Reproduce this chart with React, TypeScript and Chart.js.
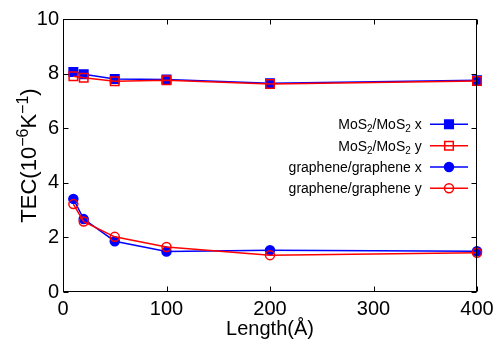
import React, { useEffect, useRef } from "react";
import { Chart, registerables } from "chart.js";

Chart.register(...registerables);

// ---- data ----
const lengths = [10, 20, 50, 100, 200, 400];
const mos2X = [8.06, 7.98, 7.8, 7.78, 7.65, 7.76];
const mos2Y = [7.9, 7.85, 7.72, 7.76, 7.62, 7.73];
const grapheneX = [3.41, 2.67, 1.86, 1.48, 1.53, 1.49];
const grapheneY = [3.22, 2.58, 2.02, 1.65, 1.35, 1.44];

const xTickValues = [0, 100, 200, 300, 400];
const yTickValues = [0, 2, 4, 6, 8, 10];

const xTitle = "Length(Å)";
// [text, mode] where mode: "n" normal, "sup" superscript, "sub" subscript
const yTitleParts: [string, string][] = [
  ["TEC(10", "n"],
  ["−6", "sup"],
  ["K", "n"],
  ["−1", "sup"],
  [")", "n"],
];
const legendLabels: [string, string][][] = [
  [["MoS", "n"], ["2", "sub"], ["/MoS", "n"], ["2", "sub"], [" x", "n"]],
  [["MoS", "n"], ["2", "sub"], ["/MoS", "n"], ["2", "sub"], [" y", "n"]],
  [["graphene/graphene x", "n"]],
  [["graphene/graphene y", "n"]],
];

const BLUE = "#0000ff";
const RED = "#ff0000";
const FONT = "'Liberation Sans', Arial, sans-serif";

type Style = { color: string; point: "rect" | "circle"; filled: boolean };
const styles: Style[] = [
  { color: BLUE, point: "rect", filled: true },
  { color: RED, point: "rect", filled: false },
  { color: BLUE, point: "circle", filled: true },
  { color: RED, point: "circle", filled: false },
];

function partsWidth(ctx: CanvasRenderingContext2D, parts: [string, string][], size: number, small: number) {
  let w = 0;
  for (const [t, m] of parts) {
    ctx.font = `${m === "n" ? size : small}px ${FONT}`;
    w += ctx.measureText(t).width;
  }
  return w;
}

function drawParts(
  ctx: CanvasRenderingContext2D,
  parts: [string, string][],
  x: number,
  baseline: number,
  size: number,
  small: number,
  supShift: number,
  subShift: number
) {
  let cx = x;
  ctx.textAlign = "left";
  ctx.textBaseline = "alphabetic";
  for (const [t, m] of parts) {
    ctx.font = `${m === "n" ? size : small}px ${FONT}`;
    const dy = m === "sup" ? -supShift : m === "sub" ? subShift : 0;
    ctx.fillText(t, cx, baseline + dy);
    cx += ctx.measureText(t).width;
  }
}

function drawMarker(ctx: CanvasRenderingContext2D, s: Style, x: number, y: number) {
  ctx.save();
  ctx.strokeStyle = s.color;
  ctx.fillStyle = s.color;
  ctx.lineWidth = 1.5;
  ctx.beginPath();
  if (s.point === "rect") {
    const h = 4.3;
    ctx.rect(x - h, y - h, 2 * h, 2 * h);
  } else {
    ctx.arc(x, y, 4.5, 0, Math.PI * 2);
  }
  if (s.filled) ctx.fill();
  ctx.stroke();
  ctx.restore();
}

const framePlugin = {
  id: "gnuframe",
  afterDraw(chart: any) {
    const ctx: CanvasRenderingContext2D = chart.ctx;
    const ca = chart.chartArea;
    const xs = chart.scales.x;
    const ys = chart.scales.y;
    ctx.save();
    ctx.strokeStyle = "#000";
    ctx.lineWidth = 1;
    const L = Math.round(ca.left) + 0.5;
    const R = Math.round(ca.right) - 0.5;
    const T = Math.round(ca.top) + 0.5;
    const B = Math.round(ca.bottom) - 0.5;
    ctx.strokeRect(L, T, R - L, B - T);
    const tl = 5;
    ctx.beginPath();
    for (const v of xTickValues) {
      const px = Math.round(xs.getPixelForValue(v)) + 0.5;
      ctx.moveTo(px, B);
      ctx.lineTo(px, B - tl);
      ctx.moveTo(px, T);
      ctx.lineTo(px, T + tl);
    }
    for (const v of yTickValues) {
      const py = Math.round(ys.getPixelForValue(v)) + 0.5;
      ctx.moveTo(L, py);
      ctx.lineTo(L + tl, py);
      ctx.moveTo(R, py);
      ctx.lineTo(R - tl, py);
    }
    ctx.stroke();

    // x title
    ctx.fillStyle = "#000";
    ctx.font = `20px ${FONT}`;
    ctx.textAlign = "center";
    ctx.textBaseline = "alphabetic";
    ctx.fillText(xTitle, (ca.left + ca.right) / 2, 335);

    // y title (rotated)
    ctx.save();
    ctx.translate(27.5, 155.5);
    ctx.rotate(-Math.PI / 2);
    const tw = partsWidth(ctx, yTitleParts, 22, 16);
    drawParts(ctx, yTitleParts, -tw / 2, 8, 22, 16, 7.5, 0);
    ctx.restore();

    // legend
    const rows = [124.3, 145.7, 167, 188.3];
    const textRight = 421.7;
    for (let i = 0; i < legendLabels.length; i++) {
      const y = rows[i];
      const w = partsWidth(ctx, legendLabels[i], 14, 10);
      ctx.fillStyle = "#000";
      drawParts(ctx, legendLabels[i], textRight - w, y + 5, 14, 10, 5, 3);
      ctx.strokeStyle = styles[i].color;
      ctx.lineWidth = 1.5;
      ctx.beginPath();
      ctx.moveTo(430, y);
      ctx.lineTo(468, y);
      ctx.stroke();
      drawMarker(ctx, styles[i], 449, y);
    }
    ctx.restore();
  },
};

export default function App() {
  const ref = useRef<HTMLCanvasElement | null>(null);
  useEffect(() => {
    if (!ref.current) return;
    const series = [mos2X, mos2Y, grapheneX, grapheneY];
    const names = ["MoS2/MoS2 x", "MoS2/MoS2 y", "graphene/graphene x", "graphene/graphene y"];
    const chart = new Chart(ref.current, {
      type: "line",
      data: {
        datasets: series.map((vals, i) => ({
          label: names[i],
          data: lengths.map((x, j) => ({ x, y: vals[j] })),
          borderColor: styles[i].color,
          backgroundColor: styles[i].filled ? styles[i].color : "rgba(0,0,0,0)",
          pointBorderColor: styles[i].color,
          pointBackgroundColor: styles[i].filled ? styles[i].color : "rgba(0,0,0,0)",
          pointStyle: styles[i].point === "rect" ? "rect" : "circle",
          pointRadius: styles[i].point === "rect" ? 6 : 4.5,
          pointBorderWidth: 1.5,
          borderWidth: 1.5,
          tension: 0,
          fill: false,
          clip: false as any,
          order: 3 - i,
        })),
      },
      options: {
        responsive: false,
        animation: false,
        layout: { padding: { left: 0, right: 23, top: 19, bottom: 0 } },
        plugins: { legend: { display: false }, tooltip: { enabled: false } },
        scales: {
          x: {
            type: "linear",
            min: 0,
            max: 400,
            grid: { display: false, drawTicks: false },
            border: { display: false },
            afterFit: (s: any) => {
              s.height = 58;
            },
            afterBuildTicks: (s: any) => {
              s.ticks = xTickValues.map((v) => ({ value: v }));
            },
            ticks: {
              color: "#000",
              font: { family: FONT, size: 20 },
              padding: 5,
              maxRotation: 0,
            },
          },
          y: {
            type: "linear",
            min: 0,
            max: 10,
            grid: { display: false, drawTicks: false },
            border: { display: false },
            afterFit: (s: any) => {
              s.width = 63;
            },
            afterBuildTicks: (s: any) => {
              s.ticks = yTickValues.map((v) => ({ value: v }));
            },
            ticks: {
              color: "#000",
              font: { family: FONT, size: 20 },
              padding: 4,
            },
          },
        },
      },
      plugins: [framePlugin],
    } as any);
    return () => chart.destroy();
  }, []);
  return (
    <div style={{ position: "absolute", left: 0, top: 0, width: 500, height: 350, background: "#fff" }}>
      <canvas ref={ref} width={500} height={350} style={{ width: 500, height: 350, display: "block" }} />
    </div>
  );
}
